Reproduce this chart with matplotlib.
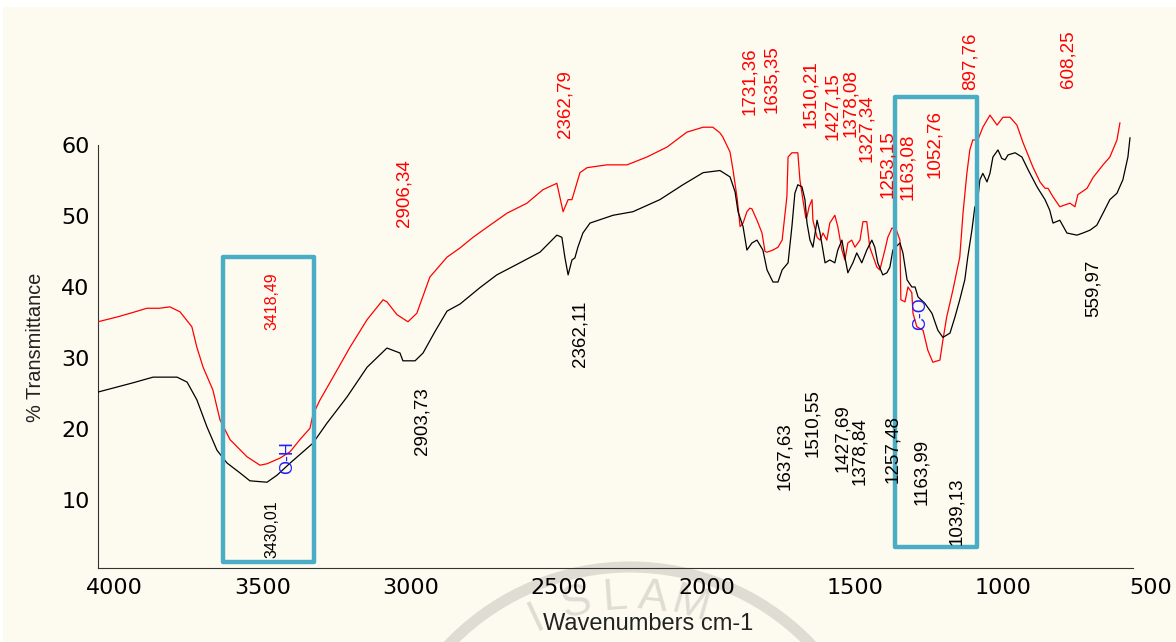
import math
import matplotlib.pyplot as plt
from matplotlib.patches import Rectangle, Circle

# spektrum merah (atas)
red_wn = [4057, 3990, 3940, 3892, 3850, 3814, 3780, 3740, 3723, 3702, 3669, 3645, 3611, 3554,
          3510, 3486, 3442, 3408, 3375, 3341, 3331, 3307, 3263, 3206, 3148, 3094, 3081, 3047,
          3010, 2980, 2936, 2878, 2834, 2790, 2733, 2675, 2608, 2554, 2507, 2486, 2469, 2456,
          2429, 2405, 2338, 2270, 2203, 2135, 2068, 2013, 1980, 1956, 1946, 1922, 1912, 1898,
          1888, 1878, 1865, 1855, 1848, 1831, 1814, 1804, 1797, 1777, 1760, 1746, 1730, 1726,
          1713, 1693, 1686, 1676, 1666, 1662, 1655, 1645, 1642, 1628, 1618, 1608, 1595, 1585,
          1568, 1558, 1544, 1534, 1524, 1511, 1500, 1483, 1473, 1460, 1450, 1426, 1416, 1399,
          1389, 1375, 1360, 1348, 1345, 1331, 1321, 1308, 1304, 1291, 1270, 1254, 1237, 1213,
          1203, 1190, 1169, 1146, 1135, 1122, 1112, 1102, 1085, 1068, 1044, 1020, 1000, 976,
          953, 932, 899, 875, 858, 848, 831, 808, 774, 757, 747, 716, 696, 662, 639, 615, 605]
red_t = [35.1, 35.8, 36.4, 37.0, 37.0, 37.2, 36.5, 34.4, 31.5, 28.7, 25.5, 21.3, 18.5, 16.1,
         14.9, 15.1, 15.9, 16.8, 18.5, 20.1, 22.0, 24.1, 27.3, 31.5, 35.4, 38.2, 37.9, 36.1,
         35.1, 36.3, 41.4, 44.2, 45.5, 47.0, 48.7, 50.4, 51.8, 53.7, 54.6, 50.6, 52.3, 52.3,
         56.1, 56.8, 57.2, 57.2, 58.3, 59.7, 61.8, 62.5, 62.5, 61.7, 61.1, 59.0, 56.5, 52.5,
         48.5, 49.0, 50.6, 51.1, 51.0, 49.4, 47.6, 45.0, 44.9, 45.2, 45.6, 46.6, 52.7, 58.3,
         58.9, 58.9, 55.1, 52.3, 49.7, 49.9, 51.3, 52.3, 49.4, 47.0, 46.6, 47.6, 46.6, 49.0,
         50.1, 48.5, 45.2, 43.8, 46.2, 46.6, 45.6, 46.6, 49.2, 49.2, 45.6, 42.8, 42.4, 45.2,
         47.0, 48.3, 48.0, 46.6, 38.2, 37.9, 40.0, 39.2, 36.3, 34.4, 33.9, 31.1, 29.4, 29.7,
         32.5, 35.8, 39.6, 44.2, 50.4, 56.0, 59.3, 60.7, 60.7, 62.5, 64.2, 62.8, 63.9, 63.9,
         62.8, 60.3, 56.9, 54.8, 53.9, 53.9, 52.7, 51.3, 51.8, 51.3, 53.0, 53.9, 55.4, 57.2,
         58.3, 60.7, 63.1]

# spektrum hitam (bawah)
black_wn = [4057, 3939, 3871, 3790, 3756, 3723, 3689, 3655, 3621, 3577, 3544, 3486, 3452, 3408,
            3331, 3284, 3216, 3148, 3081, 3037, 3027, 2986, 2959, 2919, 2878, 2834, 2767, 2710,
            2632, 2564, 2507, 2490, 2480, 2469, 2456, 2446, 2436, 2419, 2395, 2317, 2250, 2159,
            2081, 2013, 1956, 1922, 1905, 1895, 1878, 1865, 1848, 1831, 1811, 1797, 1777, 1760,
            1746, 1726, 1713, 1703, 1693, 1679, 1669, 1662, 1652, 1642, 1628, 1618, 1601, 1585,
            1568, 1558, 1544, 1534, 1524, 1507, 1494, 1477, 1460, 1443, 1433, 1423, 1406, 1392,
            1382, 1372, 1348, 1338, 1324, 1308, 1297, 1287, 1264, 1240, 1220, 1203, 1179, 1162,
            1146, 1129, 1119, 1105, 1095, 1088, 1078, 1068, 1054, 1044, 1034, 1017, 1004, 993,
            983, 959, 936, 915, 885, 858, 842, 831, 808, 784, 750, 730, 706, 683, 662, 639, 615,
            595, 578, 571]
black_t = [25.2, 26.5, 27.3, 27.3, 26.6, 24.1, 20.3, 17.0, 15.2, 13.8, 12.7, 12.5, 13.5, 15.2,
           18.0, 20.8, 24.5, 28.7, 31.4, 30.7, 29.6, 29.6, 30.7, 33.7, 36.6, 37.6, 39.9, 41.7,
           43.4, 44.9, 47.3, 47.0, 44.2, 41.7, 43.8, 44.1, 45.6, 47.6, 49.0, 50.1, 50.6, 52.3,
           54.4, 56.1, 56.4, 55.5, 53.4, 50.6, 48.5, 45.2, 46.2, 46.6, 45.2, 42.4, 40.7, 40.7,
           42.4, 43.4, 48.5, 53.2, 54.4, 54.1, 52.3, 49.0, 46.6, 45.6, 49.4, 47.6, 43.4, 43.8,
           43.4, 45.2, 46.6, 44.2, 42.0, 43.4, 44.8, 43.4, 45.2, 46.6, 45.6, 43.4, 41.7, 42.0,
           42.8, 45.2, 46.2, 44.8, 41.0, 40.0, 40.0, 38.6, 37.7, 36.3, 33.9, 32.9, 33.5, 35.8,
           38.2, 41.0, 44.2, 48.0, 51.3, 51.3, 55.1, 56.0, 54.8, 56.0, 58.3, 59.3, 58.1, 57.9,
           58.6, 58.9, 58.3, 56.5, 54.1, 52.3, 50.8, 49.0, 49.4, 47.6, 47.3, 47.6, 48.0, 48.7,
           50.4, 52.3, 53.2, 55.1, 58.3, 61.0]

# label puncak: teks, posisi x (cm-1), y bawah teks
red_labels = ["3418,49", "2906,34", "2362,79", "1731,36", "1635,35", "1510,21", "1427,15",
              "1378,08", "1327,34", "1253,15", "1163,08", "1052,76", "897,76", "608,25"]
red_label_x = [3469, 3023, 2479, 1855, 1780, 1649, 1574, 1513, 1459, 1388, 1321, 1230, 1112, 780]
red_label_y = [33.9, 48.5, 61.0, 64.2, 64.5, 62.4, 60.7, 61.1, 57.6, 52.5, 52.3, 55.4, 67.7, 68.0]

black_labels = ["3430,01", "2903,73", "2362,11", "1637,63", "1510,55", "1427,69", "1378,84",
                "1257,48", "1163,99", "1039,13", "559,97"]
black_label_x = [3469, 2962, 2429, 1736, 1642, 1541, 1483, 1372, 1274, 1155, 696]
black_label_y = [1.8, 16.3, 28.7, 11.4, 16.1, 13.9, 12.1, 12.4, 9.3, 3.7, 35.8]

# gugus fungsi dan kotak sorotan
group_names = ["O-H", "C-O"]
group_x = [3415, 1277]
group_y = [16.0, 36.3]
boxes = [(3635, 3327, 1.3, 44.2), (1365, 1088, 3.4, 66.8)]

BG = "#FDFBF0"
fig = plt.figure(figsize=(11.76, 6.42), dpi=100)
fig.patch.set_facecolor("white")
fig.add_artist(Rectangle((3 / 1176, 0), 1, 1 - 7 / 642, transform=fig.transFigure,
                         facecolor=BG, edgecolor="none", zorder=-3))

# watermark samar (logo)
wm = "#DFDCD3"
cx, cy = 6.3, -1.75
fig.add_artist(Circle((cx, cy), 2.5, transform=fig.dpi_scale_trans, fill=False,
                      edgecolor=wm, lw=8, zorder=-2))
for ch, ang in zip("ISLAM", [-25, -14, -4, 6, 16]):
    a = math.radians(ang)
    fig.text(cx + 2.2 * math.sin(a), cy + 2.2 * math.cos(a), ch,
             transform=fig.dpi_scale_trans, rotation=-ang, ha="center", va="center",
             fontsize=32, color=wm, family="Liberation Sans", zorder=-1)

ax = fig.add_axes([98 / 1176, 74 / 642, 1053 / 1176, 548 / 642])
ax.set_facecolor("none")

ax.plot(red_wn, red_t, color="#FF0000", lw=0.9, zorder=3)
ax.plot(black_wn, black_t, color="black", lw=0.9, zorder=3)

for x0, x1, y0, y1 in boxes:
    ax.add_patch(Rectangle((x1, y0), x0 - x1, y1 - y0, fill=False, edgecolor="#4BACC6",
                           lw=3.2, joinstyle="round", zorder=4))

for t, x, y in zip(red_labels, red_label_x, red_label_y):
    fs = 11.4 if t == "3418,49" else 13.5
    ax.text(x, y, t, rotation=90, ha="center", va="bottom", color="#FF0000",
            fontsize=fs, family="Liberation Sans", zorder=5)
for t, x, y in zip(black_labels, black_label_x, black_label_y):
    fs = 11.4 if t == "3430,01" else 13.5
    ax.text(x, y, t, rotation=90, ha="center", va="bottom", color="black",
            fontsize=fs, family="Liberation Sans", zorder=5)
for t, x, y in zip(group_names, group_x, group_y):
    ax.text(x, y, t, rotation=90, ha="center", va="center", color="#2020FF",
            fontsize=13, family="Liberation Sans", zorder=5)

ax.set_xticks([4000, 3500, 3000, 2500, 2000, 1500, 1000, 500])
ax.set_yticks([10, 20, 30, 40, 50, 60])
ax.set_xlim(4057, 500)
ax.set_ylim(0.42, 77.6)
ax.tick_params(length=0, labelsize=16)
ax.tick_params(axis="x", pad=7)
ax.tick_params(axis="y", pad=6)
for s in ["top", "right"]:
    ax.spines[s].set_visible(False)
ax.spines["left"].set_bounds(0.42, 60)
ax.spines["bottom"].set_bounds(4057, 560)
ax.spines["left"].set_color("#333333")
ax.spines["bottom"].set_color("#333333")

ax.set_xlabel("Wavenumbers cm-1", fontsize=17, family="Liberation Sans", color="#222222")
ax.xaxis.set_label_coords(550 / 1053, -0.102)
ax.xaxis.label.set_verticalalignment("center")
ax.set_ylabel("% Transmittance", fontsize=14.4, family="Liberation Sans", color="#222222")
ax.yaxis.set_label_coords(-62 / 1053, 0.403)
ax.yaxis.label.set_verticalalignment("center")

fig.savefig("out.png", dpi=100, facecolor=fig.get_facecolor())
